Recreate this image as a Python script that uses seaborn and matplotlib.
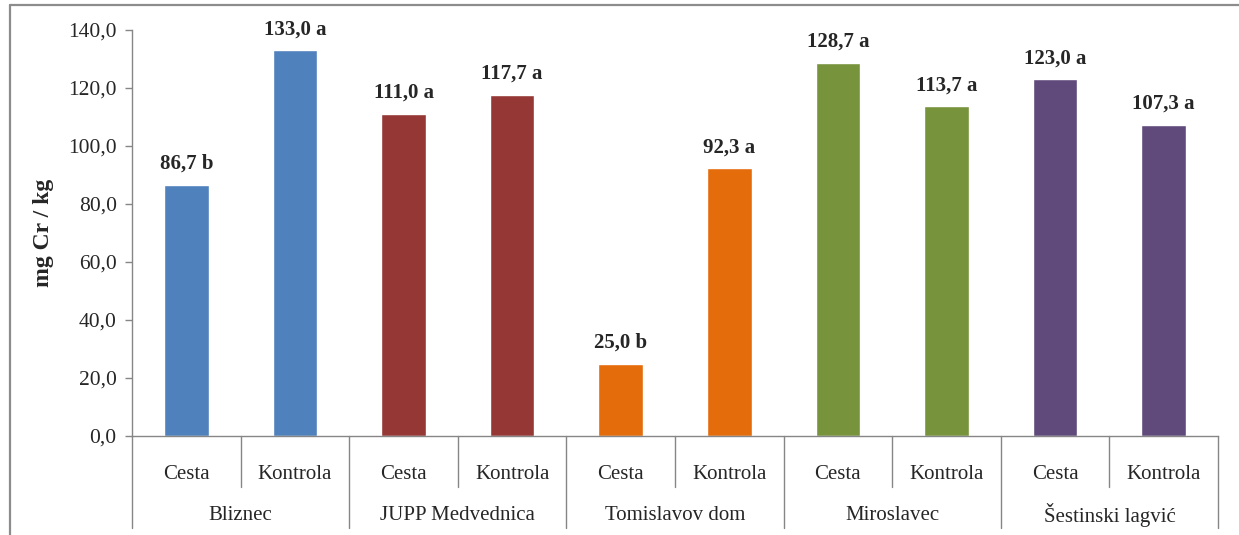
import pandas as pd
import seaborn as sns
import matplotlib.pyplot as plt
from matplotlib.lines import Line2D
import matplotlib.transforms as mtransforms

sites = ['Bliznec', 'JUPP Medvednica', 'Tomislavov dom', 'Miroslavec', 'Šestinski lagvić']
treatments = ['Cesta', 'Kontrola']
values = [86.7, 133.0, 111.0, 117.7, 25.0, 92.3, 128.7, 113.7, 123.0, 107.3]
letters = ['b', 'a', 'a', 'a', 'b', 'a', 'a', 'a', 'a', 'a']
site_colors = ['#4F81BD', '#953735', '#E46C0A', '#77933C', '#604A7B']

sns.set_style('white')
plt.rcParams['font.family'] = ['Liberation Serif', 'DejaVu Serif']

# one row per bar
rows = []
for i, site in enumerate(sites):
    for j, tr in enumerate(treatments):
        k = i * 2 + j
        rows.append({'key': f'{site}|{tr}', 'site': site, 'tr': tr,
                     'value': values[k], 'letter': letters[k]})
df = pd.DataFrame(rows)
order = df['key'].tolist()
palette = {key: site_colors[k // 2] for k, key in enumerate(order)}

fig = plt.figure(figsize=(12.39, 5.35), dpi=100)
ax = fig.add_axes([132 / 1239, 1 - 436 / 535, (1218 - 132) / 1239, 406 / 535])

sns.barplot(data=df, x='key', y='value', hue='key', order=order, hue_order=order,
            palette=palette, width=0.41, legend=False, saturation=1, ax=ax)

ax.set_xlim(-0.5, len(order) - 0.5)
ax.set_ylim(0, 140)
ax.set_yticks(range(0, 141, 20))
ax.set_yticklabels([f'{v:.1f}'.replace('.', ',') for v in range(0, 141, 20)], fontsize=15.5)
ax.set_xticks([])
ax.set_xlabel('')
ax.set_ylabel('mg Cr / kg', fontsize=17, fontweight='bold', labelpad=10)
ax.tick_params(axis='y', direction='out', length=5, width=1, color='#868686', pad=6, left=True)

for s in ['top', 'right']:
    ax.spines[s].set_visible(False)
for s in ['left', 'bottom']:
    ax.spines[s].set_color('#868686')
    ax.spines[s].set_linewidth(1)

# value labels
for k, row in df.iterrows():
    lab = f"{row['value']:.1f}".replace('.', ',') + ' ' + row['letter']
    ax.annotate(lab, (k, row['value']), xytext=(0, 8), textcoords='offset points',
                ha='center', va='bottom', fontsize=15, fontweight='bold')

# two-level category axis
trans = mtransforms.blended_transform_factory(ax.transData, ax.transAxes)
for k, row in df.iterrows():
    ax.text(k, -0.095, row['tr'], transform=trans, ha='center', va='center', fontsize=15)
for i, site in enumerate(sites):
    ax.text(i * 2 + 0.5, -0.195, site, transform=trans, ha='center', va='center', fontsize=15)
for b in range(len(order) + 1):
    bottom = -0.227 if b % 2 == 0 else -0.126
    ax.plot([b - 0.5, b - 0.5], [0, bottom], transform=trans, color='#868686',
            lw=1, clip_on=False)

# outer chart border
fig.add_artist(Line2D([10 / 1239, 10 / 1239], [0, 1 - 5 / 535], color='#8c8c8c', lw=1.6))
fig.add_artist(Line2D([10 / 1239, 1], [1 - 5 / 535, 1 - 5 / 535], color='#8c8c8c', lw=1.6))

fig.savefig('out.png', dpi=100)
